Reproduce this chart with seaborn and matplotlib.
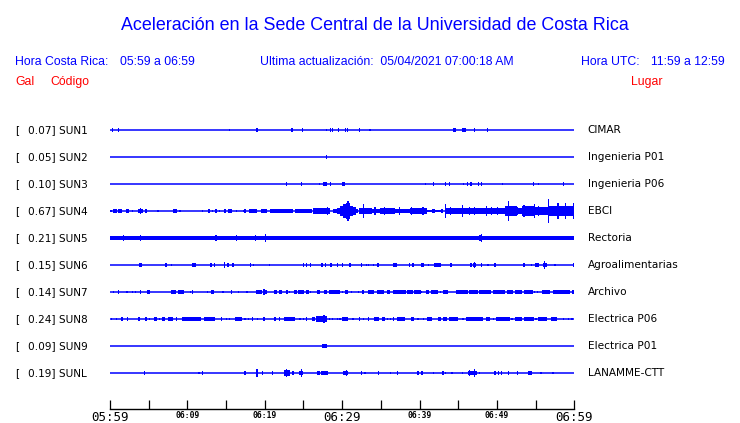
import matplotlib
matplotlib.use("Agg")
import matplotlib.pyplot as plt
import matplotlib.transforms as mtransforms
import seaborn as sns

# ---------------- data ----------------
stations = ["SUN1", "SUN2", "SUN3", "SUN4", "SUN5", "SUN6", "SUN7", "SUN8", "SUN9", "SUNL"]
places = ["CIMAR", "Ingenieria P01", "Ingenieria P06", "EBCI", "Rectoria",
          "Agroalimentarias", "Archivo", "Electrica P06", "Electrica P01", "LANAMME-CTT"]
gal = [0.07, 0.05, 0.10, 0.67, 0.21, 0.15, 0.14, 0.24, 0.09, 0.19]
# continuous noise floor (half amplitude, in trace-spacing units)
noise_floor = [0.0, 0.0, 0.0, 0.0, 0.06, 0.0, 0.0, 0.0, 0.0, 0.0]

tick_minutes = [0, 10, 20, 30, 40, 50, 60]
tick_labels = ["05:59", "06:09", "06:19", "06:29", "06:39", "06:49", "06:59"]
minor_minutes = [5, 15, 25, 35, 45, 55]

# activity: (start minute, end minute, half amplitude) ; start == end -> single spike
sun1 = [(0.3, 0.3, 0.08), (1.07, 1.07, 0.09), (15.4, 15.4, 0.04), (19.0, 19.0, 0.08),
        (23.4, 23.7, 0.07), (24.85, 24.85, 0.08), (28.0, 28.0, 0.04), (28.4, 28.5, 0.08),
        (28.7, 28.7, 0.08), (29.5, 29.5, 0.08), (30.45, 30.45, 0.08), (30.65, 30.65, 0.08),
        (32.2, 32.2, 0.08), (33.6, 33.6, 0.04), (44.45, 44.45, 0.08), (44.65, 44.65, 0.08),
        (45.5, 46.0, 0.07), (47.05, 47.05, 0.08), (48.7, 48.9, 0.07)]
sun2 = [(27.85, 28.05, 0.07)]
sun3 = [(22.8, 22.8, 0.08), (24.7, 24.7, 0.08), (27.05, 27.05, 0.04), (27.5, 28.1, 0.08),
        (28.55, 28.55, 0.06), (30.0, 30.35, 0.08), (40.75, 40.75, 0.04), (41.8, 41.8, 0.07),
        (43.3, 43.3, 0.07), (43.85, 43.95, 0.08), (45.65, 45.65, 0.04), (46.15, 46.3, 0.08),
        (46.65, 46.65, 0.07), (47.65, 47.65, 0.07), (47.95, 48.1, 0.08), (50.7, 50.7, 0.04),
        (54.7, 54.7, 0.08), (55.35, 55.35, 0.05), (58.6, 58.6, 0.08)]
sun4 = [(0.13, 0.13, 0.05), (0.4, 0.9, 0.07), (1.05, 1.55, 0.07), (2.05, 2.45, 0.06),
        (2.95, 2.95, 0.05), (3.6, 4.25, 0.08), (3.9, 3.9, 0.11), (4.65, 4.65, 0.06),
        (6.2, 6.2, 0.04), (8.15, 8.65, 0.07), (9.05, 9.05, 0.05), (12.0, 12.0, 0.05),
        (12.65, 12.9, 0.07), (13.3, 13.3, 0.05), (13.7, 13.7, 0.06), (14.2, 14.2, 0.05),
        (14.75, 15.0, 0.07), (15.25, 15.75, 0.07), (16.3, 16.3, 0.05), (17.2, 17.2, 0.05),
        (17.45, 17.45, 0.06), (17.95, 19.0, 0.07), (19.5, 20.3, 0.07), (20.65, 21.6, 0.07),
        (21.6, 23.65, 0.06), (23.9, 26.1, 0.07), (26.2, 28.4, 0.10), (28.05, 28.05, 0.14),
        (28.8, 29.7, 0.08), (29.6, 29.6, 0.11),
        (29.1, 29.3, 0.06), (29.3, 29.7, 0.10), (29.7, 30.1, 0.18), (30.1, 30.5, 0.26),
        (30.5, 31.0, 0.30), (30.75, 30.75, 0.36), (31.0, 31.4, 0.20), (31.4, 31.8, 0.14),
        (31.8, 32.05, 0.09),
        (32.2, 33.85, 0.11), (33.85, 34.9, 0.08), (34.9, 36.8, 0.12), (36.8, 38.75, 0.09),
        (38.75, 40.95, 0.11), (32.8, 32.8, 0.26), (34.25, 34.25, 0.15), (35.5, 35.5, 0.15),
        (37.45, 37.45, 0.13), (39.0, 39.0, 0.15), (40.45, 40.45, 0.13),
        (40.95, 43.0, 0.04), (41.6, 42.0, 0.06), (42.75, 43.0, 0.06),
        (43.3, 43.3, 0.26), (43.3, 51.05, 0.10), (44.05, 44.05, 0.15), (45.5, 45.5, 0.22),
        (46.5, 46.5, 0.13), (47.15, 47.15, 0.15), (48.7, 48.7, 0.17), (49.35, 49.35, 0.13),
        (50.1, 50.1, 0.13),
        (51.05, 52.6, 0.17), (52.6, 53.25, 0.10), (53.25, 54.9, 0.20), (54.9, 56.6, 0.15),
        (56.6, 60.0, 0.20), (51.55, 51.55, 0.36), (52.7, 52.7, 0.15), (53.5, 53.5, 0.22),
        (54.0, 54.0, 0.20), (54.8, 54.8, 0.26), (55.35, 55.35, 0.18), (56.65, 56.65, 0.44),
        (57.15, 57.15, 0.18), (57.9, 57.9, 0.30), (58.9, 58.9, 0.30), (59.45, 59.45, 0.18),
        (59.85, 59.85, 0.30)]
sun5 = [(1.7, 1.7, 0.11), (3.2, 3.9, 0.09), (3.9, 3.9, 0.12), (8.8, 8.8, 0.09),
        (12.55, 12.55, 0.09), (13.3, 14.1, 0.09), (13.7, 13.7, 0.11), (14.75, 14.75, 0.08),
        (16.3, 16.3, 0.11), (18.85, 18.85, 0.11), (20.05, 20.05, 0.15), (20.4, 20.4, 0.09),
        (25.45, 25.45, 0.09), (25.7, 25.7, 0.09), (28.7, 28.7, 0.09), (30.9, 30.9, 0.08),
        (32.95, 32.95, 0.09), (34.0, 34.0, 0.08), (34.6, 34.9, 0.09), (35.4, 35.65, 0.09),
        (44.85, 44.85, 0.08), (45.5, 45.5, 0.08), (46.0, 46.0, 0.08), (46.5, 46.5, 0.08),
        (47.15, 47.15, 0.08), (47.65, 47.95, 0.10), (47.95, 47.95, 0.15), (48.85, 48.85, 0.08),
        (49.5, 49.5, 0.08), (50.4, 50.8, 0.09), (53.9, 53.9, 0.08), (54.65, 54.65, 0.09),
        (56.2, 56.2, 0.09), (58.4, 58.4, 0.09)]
sun6 = [(3.75, 4.15, 0.07), (7.1, 7.35, 0.07), (7.9, 7.9, 0.05), (10.6, 11.1, 0.07),
        (13.05, 13.05, 0.07), (13.55, 13.55, 0.07), (14.85, 14.85, 0.12), (15.25, 15.25, 0.06),
        (15.9, 15.9, 0.07), (18.1, 18.1, 0.06), (18.6, 18.6, 0.05), (20.65, 20.65, 0.04),
        (24.95, 24.95, 0.07), (25.3, 25.45, 0.07), (25.95, 25.95, 0.07), (27.4, 27.4, 0.07),
        (27.8, 27.8, 0.06), (28.4, 28.7, 0.07), (29.35, 29.35, 0.07), (30.1, 30.1, 0.07),
        (30.9, 31.15, 0.07), (32.55, 32.55, 0.07), (33.2, 33.2, 0.05), (33.35, 33.35, 0.05),
        (34.1, 34.1, 0.05), (34.5, 34.75, 0.07), (36.55, 37.1, 0.07), (38.65, 38.65, 0.07),
        (39.0, 39.3, 0.07), (40.2, 40.55, 0.07), (41.2, 41.2, 0.05), (41.85, 42.75, 0.07),
        (43.95, 44.2, 0.07), (46.65, 46.65, 0.07), (46.9, 47.3, 0.08), (47.1, 47.1, 0.12),
        (47.95, 47.95, 0.07), (48.85, 48.85, 0.05), (49.75, 49.75, 0.07), (53.5, 53.5, 0.07),
        (54.5, 54.5, 0.05), (54.9, 55.45, 0.06), (55.95, 56.45, 0.09), (56.2, 56.2, 0.14),
        (57.5, 57.5, 0.03), (59.95, 59.95, 0.07)]
sun7 = [(0.4, 0.4, 0.05), (1.05, 1.15, 0.09), (2.2, 2.2, 0.05), (2.85, 2.85, 0.05),
        (3.35, 3.35, 0.05), (3.9, 3.9, 0.07), (4.8, 5.15, 0.07), (7.9, 8.55, 0.07),
        (8.8, 9.55, 0.07), (10.35, 10.35, 0.05), (10.7, 10.7, 0.07), (12.55, 12.55, 0.05),
        (13.05, 13.45, 0.07), (14.6, 14.6, 0.04), (15.65, 15.65, 0.07), (16.65, 16.65, 0.05),
        (17.7, 17.7, 0.04), (18.85, 19.65, 0.07), (19.75, 20.3, 0.08), (19.9, 19.9, 0.11),
        (21.2, 21.6, 0.07), (21.85, 22.2, 0.07), (22.75, 23.0, 0.07), (23.25, 23.25, 0.05),
        (23.75, 24.15, 0.07), (24.3, 25.05, 0.07), (25.3, 25.7, 0.07), (25.95, 25.95, 0.05),
        (26.75, 27.15, 0.07), (27.65, 28.05, 0.07), (28.3, 29.05, 0.07), (29.05, 29.45, 0.06),
        (29.45, 29.7, 0.07), (29.95, 30.1, 0.05), (30.35, 30.75, 0.07), (31.25, 31.25, 0.05),
        (32.15, 32.15, 0.05), (32.55, 32.8, 0.07), (33.35, 34.1, 0.07), (34.5, 35.4, 0.07),
        (35.8, 36.2, 0.07), (36.55, 38.25, 0.07), (38.35, 39.15, 0.07), (39.3, 40.2, 0.07),
        (40.3, 40.3, 0.05), (40.85, 41.2, 0.07), (41.45, 42.4, 0.07), (42.75, 42.75, 0.05),
        (43.0, 43.65, 0.07), (44.7, 46.25, 0.07), (46.4, 47.55, 0.07), (47.65, 49.2, 0.07),
        (49.5, 51.05, 0.07), (51.3, 52.05, 0.07), (52.3, 53.2, 0.07), (53.5, 54.65, 0.07),
        (54.9, 54.9, 0.05), (55.3, 55.3, 0.05), (55.8, 56.85, 0.07), (57.25, 59.45, 0.07),
        (59.7, 60.0, 0.07)]
sun8 = [(0.25, 0.25, 0.05), (0.8, 0.8, 0.04), (1.55, 1.55, 0.06), (2.3, 2.3, 0.08),
        (3.75, 3.75, 0.06), (4.5, 4.8, 0.07), (5.05, 5.05, 0.05), (5.7, 6.1, 0.07),
        (6.35, 6.35, 0.05), (6.7, 7.1, 0.07), (7.5, 8.15, 0.07), (8.55, 8.55, 0.07),
        (9.3, 11.75, 0.07), (12.15, 13.55, 0.07), (14.45, 14.45, 0.06), (15.0, 15.0, 0.05),
        (15.5, 15.5, 0.05), (16.15, 17.05, 0.07), (17.45, 17.45, 0.05), (17.85, 17.85, 0.05),
        (18.45, 18.45, 0.07), (19.1, 19.1, 0.05), (19.9, 19.9, 0.06), (21.2, 21.45, 0.07),
        (21.95, 21.95, 0.06), (22.5, 23.9, 0.07), (24.55, 24.55, 0.05), (24.95, 24.95, 0.05),
        (25.45, 25.45, 0.06), (26.1, 26.5, 0.07), (26.65, 28.05, 0.10), (27.65, 27.65, 0.15),
        (28.4, 28.4, 0.05), (28.8, 28.8, 0.05), (29.35, 29.35, 0.05), (29.6, 29.85, 0.05),
        (30.0, 30.75, 0.08), (31.4, 31.4, 0.05), (32.3, 32.3, 0.06), (32.8, 32.8, 0.05),
        (33.35, 33.35, 0.06), (34.1, 34.75, 0.07), (35.15, 35.55, 0.07), (35.9, 35.9, 0.05),
        (36.2, 36.2, 0.05), (36.55, 36.7, 0.07), (37.1, 38.1, 0.07), (38.9, 39.3, 0.07),
        (39.8, 39.8, 0.05), (40.55, 40.55, 0.05), (40.95, 41.6, 0.07), (42.4, 42.75, 0.07),
        (43.0, 43.55, 0.07), (43.8, 44.95, 0.07), (45.5, 45.75, 0.05), (46.0, 48.2, 0.07),
        (48.6, 49.1, 0.07), (49.5, 49.6, 0.05), (49.85, 51.7, 0.07), (51.95, 51.95, 0.05),
        (52.35, 53.25, 0.07), (53.5, 54.8, 0.07), (55.05, 55.05, 0.05), (55.3, 56.45, 0.07),
        (57.0, 57.75, 0.07), (58.65, 58.65, 0.05), (59.3, 59.3, 0.05), (59.7, 59.7, 0.05)]
sun9 = [(27.4, 28.05, 0.07)]
sunl = [(4.5, 4.5, 0.09), (11.5, 11.5, 0.03), (12.0, 12.0, 0.07), (17.45, 17.45, 0.07),
        (18.85, 19.1, 0.10), (19.0, 19.0, 0.13), (19.75, 19.75, 0.06), (20.95, 20.95, 0.07),
        (22.5, 23.25, 0.10), (22.8, 22.8, 0.14), (23.65, 23.65, 0.06), (24.4, 24.95, 0.06),
        (24.7, 24.7, 0.14), (26.75, 27.15, 0.07), (27.25, 28.15, 0.07), (30.1, 30.75, 0.08),
        (30.6, 30.6, 0.11), (32.55, 32.55, 0.06), (32.95, 32.95, 0.05), (34.65, 34.65, 0.07),
        (36.2, 36.2, 0.04), (37.1, 37.1, 0.06), (39.8, 39.8, 0.07), (40.2, 40.45, 0.07),
        (41.85, 41.85, 0.04), (42.9, 43.15, 0.07), (43.4, 43.4, 0.05), (44.2, 44.2, 0.05),
        (45.5, 45.5, 0.05), (46.25, 47.4, 0.08), (46.5, 46.5, 0.11), (47.05, 47.05, 0.14),
        (47.8, 47.8, 0.05), (49.6, 49.85, 0.07), (50.15, 50.15, 0.06), (50.65, 50.65, 0.06),
        (51.55, 51.55, 0.06), (52.7, 52.7, 0.07), (54.0, 54.5, 0.07), (55.7, 55.7, 0.03),
        (57.25, 57.25, 0.03)]
activity = [sun1, sun2, sun3, sun4, sun5, sun6, sun7, sun8, sun9, sunl]

# ---------------- figure ----------------
W, H = 740, 423
BLUE = "#0000ff"
RED = "#ff0000"

sns.set_theme(style="white")
plt.rcParams["font.family"] = ["DejaVu Sans"]

fig = plt.figure(figsize=(W / 100, H / 100), dpi=100)
fig.patch.set_facecolor("white")
ax = fig.add_axes([110 / W, 1 - 409 / H, 464.3 / W, 292 / H])
ax.set_facecolor("white")
ax.set_xlim(0, 60)
ax.set_ylim(-10.333, 0.481)

spike_w = 60 / 464.3 * 1.1  # about one pixel

for i, (st, ev) in enumerate(zip(stations, activity)):
    y0 = -i
    sns.lineplot(x=[0, 60], y=[y0, y0], color=BLUE, linewidth=1.1, ax=ax)
    if noise_floor[i] > 0:
        ax.fill_between([0, 60], y0 - noise_floor[i], y0 + noise_floor[i],
                        color=BLUE, linewidth=0)
    for (t0, t1, a) in ev:
        if t1 - t0 < spike_w:
            x = (t0 + t1) / 2 - spike_w / 2
            w = spike_w
        else:
            x, w = t0, t1 - t0
        ax.bar(x, 2 * a, width=w, bottom=y0 - a, align="edge", color=BLUE, linewidth=0)

for s in ["top", "left", "right"]:
    ax.spines[s].set_visible(False)
ax.spines["bottom"].set_color("black")
ax.spines["bottom"].set_linewidth(1.0)
ax.set_yticks([])
ax.set_xticks(tick_minutes)
ax.set_xticklabels(tick_labels)
ax.set_xticks(minor_minutes, minor=True)
ax.tick_params(axis="x", which="both", direction="in", length=6.5, width=0.9,
               color="black", pad=1.5, bottom=True)
for k, lab in enumerate(ax.get_xticklabels()):
    if k in (0, 3, 6):
        lab.set_fontfamily("DejaVu Sans Mono")
        lab.set_fontsize(9)
    else:
        lab.set_fontfamily("DejaVu Sans Mono")
        lab.set_fontsize(5.8)
        lab.set_fontweight("bold")
    lab.set_color("black")
ax.set_xlabel("")
ax.set_ylabel("")

# station labels
trans = mtransforms.blended_transform_factory(fig.transFigure, ax.transData)
for i, (st, pl, g) in enumerate(zip(stations, places, gal)):
    y0 = -i
    ax.text(15 / W, y0, "[", transform=trans, ha="left", va="center",
            fontsize=7.6, color="black", clip_on=False)
    ax.text(27.7 / W, y0, f"{g:.2f}] {st}", transform=trans, ha="left", va="center",
            fontsize=7.6, color="black", clip_on=False)
    ax.text(587.7 / W, y0, pl, transform=trans, ha="left", va="center",
            fontsize=7.6, color="black", clip_on=False)

# header texts
HF = ["Liberation Sans", "DejaVu Sans"]
def ftext(x, y, s, size, color, ha="left"):
    fig.text(x / W, 1 - y / H, s, ha=ha, va="baseline", fontsize=size,
             color=color, family=HF)

ftext(374.5, 30, "Aceleración en la Sede Central de la Universidad de Costa Rica", 12.85, BLUE, ha="center")
ftext(15, 65, "Hora Costa Rica:", 8.8, BLUE)
ftext(120, 65, "05:59 a 06:59", 8.8, BLUE)
ftext(260, 65, "Ultima actualización:  05/04/2021 07:00:18 AM", 8.8, BLUE)
ftext(580.7, 65, "Hora UTC:", 8.8, BLUE)
ftext(650.7, 65, "11:59 a 12:59", 8.8, BLUE)
ftext(15, 85, "Gal", 8.8, RED)
ftext(50, 85, "Código", 8.8, RED)
ftext(630.7, 85, "Lugar", 8.8, RED)

fig.savefig("out.png", dpi=100, facecolor="white")
